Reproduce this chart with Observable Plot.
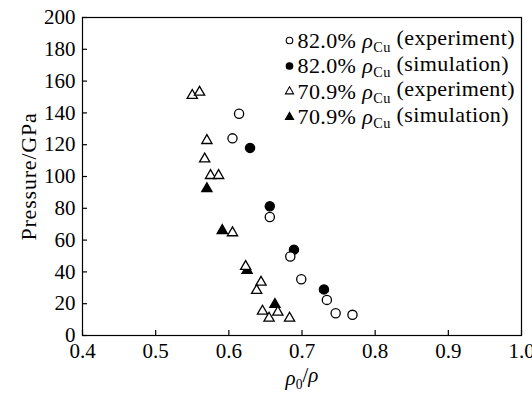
<!DOCTYPE html>
<html>
<head>
<meta charset="utf-8">
<script src="https://cdn.jsdelivr.net/npm/d3@7"></script>
<script src="https://cdn.jsdelivr.net/npm/@observablehq/plot@0.6"></script>
<style>
  html, body { margin: 0; padding: 0; background: white; font-family: "Liberation Serif", serif; }
  #chart { width: 532px; height: 394px; }
  svg text, svg tspan { font-family: "Liberation Serif", serif !important; font-variant: normal !important; font-variant-numeric: normal !important; }
</style>
</head>
<body>
<div id="chart"></div>
<script>
// ---- data ----
const exp82X  = [0.614, 0.605, 0.656, 0.684, 0.699, 0.734, 0.746, 0.769];
const exp82Y  = [139.5, 124.0, 74.5, 49.7, 35.4, 22.4, 14.0, 13.0];
const sim82X  = [0.629, 0.656, 0.689, 0.730];
const sim82Y  = [118.0, 81.3, 54.0, 29.0];
const exp709X = [0.550, 0.560, 0.570, 0.567, 0.575, 0.586, 0.605, 0.623, 0.644, 0.638, 0.646, 0.667, 0.655, 0.683];
const exp709Y = [151.0, 153.0, 122.6, 111.0, 100.6, 100.6, 64.6, 43.4, 33.5, 28.3, 15.3, 14.7, 10.9, 10.9];
const sim709X = [0.570, 0.591, 0.625, 0.663];
const sim709Y = [92.3, 66.0, 40.9, 19.5];

const xTicks = [0.4, 0.5, 0.6, 0.7, 0.8, 0.9, 1.0];
const yTicks = [0, 20, 40, 60, 80, 100, 120, 140, 160, 180, 200];

const seriesLabels = [
  "82.0% ρ_{Cu} (experiment)",
  "82.0% ρ_{Cu} (simulation)",
  "70.9% ρ_{Cu} (experiment)",
  "70.9% ρ_{Cu} (simulation)"
];
const seriesSymbols = ["circle", "circle", "triangle", "triangle"];
const seriesFilled  = [false, true, false, true];

const FONT = "Liberation Serif";

const toRows = (xs, ys) => xs.map((x, i) => ({x, y: ys[i]}));

const styleFor = (i) => ({
  symbol: seriesSymbols[i],
  fill: seriesFilled[i] ? "black" : "white",
  stroke: "black",
  strokeWidth: 1.3
});

const legendMarks = seriesLabels.flatMap((label, i) => [
  Plot.dot([label], {
    frameAnchor: "top-left", dx: 207, dy: 23 + i * 25.5,
    r: seriesSymbols[i] === "circle" ? 3.3 : 3.0,
    ...styleFor(i), strokeWidth: 1.1
  }),
  Plot.text([label], {
    text: d => d, frameAnchor: "top-left", dx: 215, dy: 23 + i * 25.5,
    lineAnchor: "middle", textAnchor: "start", fontSize: 22, fontFamily: FONT, fill: "black"
  })
]);

const chart = Plot.plot({
  width: 532,
  height: 394,
  marginLeft: 82,
  marginRight: 11,
  marginTop: 17,
  marginBottom: 59,
  style: "font-family: 'Liberation Serif', serif; font-size: 21px; background: white; color: black;",
  x: { domain: [0.4, 1.0] },
  y: { domain: [0, 200] },
  marks: [
    Plot.frame({ stroke: "black", strokeWidth: 1.2 }),
    Plot.axisX({ ticks: xTicks, tickFormat: d3.format(".1f"), tickSize: -5, tickPadding: 13, strokeWidth: 1.2,
                 label: "ρ_{0}/ρ", labelAnchor: "center", labelOffset: 49, labelArrow: "none",
                 fontSize: 21, fontFamily: FONT, fontVariant: "normal" }),
    Plot.axisY({ ticks: yTicks, tickSize: -5, tickPadding: 12, strokeWidth: 1.2,
                 label: "Pressure/GPa", labelAnchor: "center", labelOffset: 62, labelArrow: "none",
                 fontSize: 21, fontFamily: FONT, fontVariant: "normal" }),
    Plot.dot(toRows(sim82X, sim82Y),   { x: "x", y: "y", r: 4.6, ...styleFor(1) }),
    Plot.dot(toRows(sim709X, sim709Y), { x: "x", y: "y", r: 3.8, ...styleFor(3) }),
    Plot.dot(toRows(exp82X, exp82Y),   { x: "x", y: "y", r: 4.6, ...styleFor(0) }),
    Plot.dot(toRows(exp709X, exp709Y), { x: "x", y: "y", r: 3.8, ...styleFor(2) }),
    ...legendMarks
  ]
});

// rich text: italic rho, subscripts written as _{...}
function richify(node) {
  const txt = node.textContent;
  if (!txt.includes("_{")) return;
  const sel = d3.select(node);
  sel.text(null);
  const re = /(ρ)|_\{([^}]*)\}|([^ρ_]+|_)/g;
  let m, shifted = false;
  while ((m = re.exec(txt)) !== null) {
    if (m[1]) {
      const t = sel.append("tspan").attr("font-style", "italic").text("ρ");
      if (shifted) { t.attr("dy", "-0.3em"); shifted = false; }
    } else if (m[2] !== undefined) {
      sel.append("tspan").attr("font-size", "65%").attr("dy", "0.3em").text(m[2]);
      shifted = true;
    } else if (m[3]) {
      const t = sel.append("tspan").text(m[3]);
      if (shifted) { t.attr("dy", "-0.3em"); shifted = false; }
    }
  }
}
const svg = d3.select(chart);
// tabular-nums made the axis text fall back to a sans face; drop it
svg.selectAll("[font-variant]").attr("font-variant", null);
svg.attr("font-family", FONT);
svg.selectAll("text").attr("font-family", FONT).each(function() { richify(this); });
// reference type is slightly wider than Times: a touch of letter spacing
svg.selectAll("text").filter(function() { return this.textContent === "Pressure/GPa"; })
   .attr("font-size", 22).attr("letter-spacing", "0.8px");
svg.selectAll("text").filter(function() { return this.textContent.includes("("); })
   .attr("letter-spacing", "0.4px");

document.getElementById("chart").appendChild(chart);
</script>
</body>
</html>
